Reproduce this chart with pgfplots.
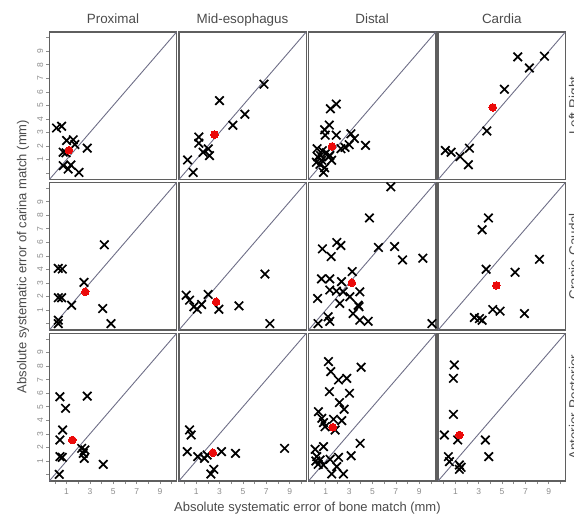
\documentclass[border=0pt]{standalone}
\usepackage{fontspec}
\setmainfont{Liberation Sans}
\usepackage{pgfplots}
\pgfplotsset{compat=1.18}
\definecolor{frame}{RGB}{95,95,95}
\definecolor{idl}{RGB}{110,110,135}
\definecolor{tickc}{RGB}{140,140,140}
\definecolor{txt}{RGB}{75,75,75}
\definecolor{dotred}{RGB}{235,10,10}
\pgfplotsset{
 panel/.style={scale only axis, width=127.3pt, height=147.6pt,
   xmin=-0.48, xmax=10.42, ymin=-0.48, ymax=10.42, anchor=north west,
   xtick=\empty, ytick=\empty,
   axis line style={draw=frame, line width=1.4pt},
   tick align=outside, major tick length=3pt,
   tick style={draw=tickc, line width=0.7pt},
   ticklabel style={font=\fontsize{8.5}{10}\selectfont, text=tickc},
   /pgf/number format/assume math mode=true},
 lefty/.style={ytick={0,...,10}, yticklabels={,1,2,3,4,5,6,7,8,9,}, ytick pos=left,
   yticklabel style={rotate=90, anchor=south, inner sep=3pt}},
 bottomx/.style={xtick={0,...,10}, xticklabels={,1,,3,,5,,7,,9,}, xtick pos=bottom,
   xticklabel style={anchor=north, inner sep=4pt}},
 xm/.style={only marks, mark=x, mark size=6pt, mark options={line width=1.7pt, draw=black}},
 mn/.style={only marks, mark=*, mark size=3.8pt, mark options={fill=dotred, draw=dotred, line width=0pt}},
 idline/.style={idl, line width=0.9pt, no marks},
}
\begin{document}
\begin{tikzpicture}[x=1pt,y=1pt]
% ---------------- Row 1: Left-Right
\begin{axis}[panel, lefty, at={(49.3pt,483pt)}]
\addplot[idline] coordinates {(-0.48,-0.48) (10.42,10.42)};
\addplot[xm] coordinates {(0.14,3.33) (0.57,3.46) (0.71,1.54) (0.95,1.5) (1.0,2.41) (1.57,2.46) (1.71,2.11) (2.77,1.84) (0.71,0.55) (1.14,0.30) (1.37,0.60) (2.06,0.05)};
\addplot[mn] coordinates {(1.2,1.69)};
\end{axis}
\begin{axis}[panel, at={(178.9pt,483pt)}]
\addplot[idline] coordinates {(-0.48,-0.48) (10.42,10.42)};
\addplot[xm] coordinates {(0.26,0.97) (0.74,0.05) (1.23,2.66) (1.23,2.21) (1.6,1.54) (2.03,1.79) (2.14,1.29) (3.0,5.35) (4.14,3.53) (5.17,4.35) (6.8,6.57)};
\addplot[mn] coordinates {(2.57,2.84)};
\end{axis}
\begin{axis}[panel, at={(308.5pt,483pt)}]
\addplot[idline] coordinates {(-0.48,-0.48) (10.42,10.42)};
\addplot[xm] coordinates {(1.4,4.75) (1.9,5.1) (1.3,3.55) (0.9,3.2) (0.95,2.8) (1.9,2.8) (3.15,2.9) (3.45,2.55) (4.4,2.05) (3.0,2.1) (2.65,1.9) (2.3,1.8) (0.25,1.8) (0.7,1.65) (1.05,1.5) (0.55,1.3) (1.25,1.2) (1.5,0.95) (0.2,0.8) (0.5,0.65) (0.9,0.4) (0.8,0.05) (1.35,1.3) (0.3,1.2) (0.65,0.95)};
\addplot[mn] coordinates {(1.54,1.97)};
\end{axis}
\begin{axis}[panel, at={(438.1pt,483pt)}]
\addplot[idline] coordinates {(-0.48,-0.48) (10.42,10.42)};
\addplot[xm] coordinates {(0.14,1.67) (0.63,1.54) (1.4,1.22) (2.2,1.84) (2.11,0.62) (3.69,3.11) (5.2,6.19) (6.34,8.58) (7.34,7.76) (8.63,8.63)};
\addplot[mn] coordinates {(4.2,4.85)};
\end{axis}
% ---------------- Row 2: Cranio-Caudal
\begin{axis}[panel, lefty, at={(49.3pt,332.5pt)}]
\addplot[idline] coordinates {(-0.48,-0.48) (10.42,10.42)};
\addplot[xm] coordinates {(0.29,0.25) (0.29,0.0) (0.29,4.08) (0.63,4.03) (0.29,1.91) (0.57,1.91) (1.43,1.36) (2.49,3.04) (4.23,5.82) (4.09,1.11) (4.8,0.0)};
\addplot[mn] coordinates {(2.6,2.35)};
\end{axis}
\begin{axis}[panel, at={(178.9pt,332.5pt)}]
\addplot[idline] coordinates {(-0.48,-0.48) (10.42,10.42)};
\addplot[xm] coordinates {(0.14,2.1) (0.43,1.73) (0.8,1.24) (1.09,1.06) (1.46,1.41) (2.03,2.15) (2.94,1.06) (4.66,1.31) (6.89,3.66) (7.31,0.0)};
\addplot[mn] coordinates {(2.71,1.61)};
\end{axis}
\begin{axis}[panel, at={(308.5pt,332.5pt)}]
\addplot[idline] coordinates {(-0.48,-0.48) (10.42,10.42)};
\addplot[xm] coordinates {(6.57,10.1) (4.74,7.8) (0.71,5.52) (1.94,5.99) (2.29,5.77) (1.46,4.95) (5.51,5.62) (6.89,5.69) (7.57,4.7) (9.31,4.83) (3.26,3.84) (0.63,3.3) (1.34,3.3) (2.34,3.1) (0.3,1.86) (1.34,2.48) (1.91,2.4) (2.49,2.35) (3.06,1.98) (3.91,2.35) (2.2,1.49) (3.77,1.36) (3.85,1.25) (3.34,0.74) (3.91,0.25) (4.63,0.17) (1.2,0.5) (1.34,0.17) (0.34,0.0) (10.09,0.0)};
\addplot[mn] coordinates {(3.23,3.02)};
\end{axis}
\begin{axis}[panel, at={(438.1pt,332.5pt)}]
\addplot[idline] coordinates {(-0.48,-0.48) (10.42,10.42)};
\addplot[xm] coordinates {(3.83,7.8) (3.29,6.93) (3.63,4.01) (6.11,3.79) (8.2,4.75) (2.63,0.45) (3.06,0.37) (3.29,0.25) (4.2,1.04) (4.83,0.92) (6.91,0.74)};
\addplot[mn] coordinates {(4.51,2.82)};
\end{axis}
% ---------------- Row 3: Anterior-Posterior
\begin{axis}[panel, lefty, bottomx, at={(49.3pt,181.6pt)}]
\addplot[idline] coordinates {(-0.48,-0.48) (10.42,10.42)};
\addplot[xm] coordinates {(0.37,0.01) (0.43,5.74) (2.77,5.79) (0.91,4.89) (0.66,3.29) (0.43,2.55) (0.43,1.32) (0.63,1.27) (2.29,1.93) (2.57,1.81) (2.43,1.56) (2.51,1.19) (4.14,0.75)};
\addplot[mn] coordinates {(1.49,2.55)};
\end{axis}
\begin{axis}[panel, bottomx, at={(178.9pt,181.6pt)}]
\addplot[idline] coordinates {(-0.48,-0.48) (10.42,10.42)};
\addplot[xm] coordinates {(0.23,1.69) (0.43,3.29) (0.57,2.92) (1.14,1.32) (1.71,1.19) (1.94,1.44) (3.17,1.69) (4.37,1.56) (2.51,0.38) (2.26,0.04) (8.57,1.93)};
\addplot[mn] coordinates {(2.43,1.61)};
\end{axis}
\begin{axis}[panel, bottomx, at={(308.5pt,181.6pt)}]
\addplot[idline] coordinates {(-0.48,-0.48) (10.42,10.42)};
\addplot[xm] coordinates {(1.23,8.34) (1.43,7.6) (2.09,6.98) (2.8,7.1) (4.03,7.92) (1.31,6.12) (3.03,6.0) (2.17,5.31) (2.57,4.82) (0.37,4.64) (0.66,4.15) (0.8,3.83) (1.66,4.08) (2.37,3.98) (0.94,3.53) (1.8,3.29) (3.94,2.3) (0.8,2.06) (0.09,1.86) (0.23,1.32) (0.51,1.07) (0.8,0.7) (1.37,1.12) (2.09,1.27) (3.17,1.39) (1.94,0.58) (1.51,0.04) (2.51,0.04) (0.15,1.0) (0.35,0.75)};
\addplot[mn] coordinates {(1.6,3.49)};
\end{axis}
\begin{axis}[panel, bottomx, at={(438.1pt,181.6pt)}]
\addplot[idline] coordinates {(-0.48,-0.48) (10.42,10.42)};
\addplot[xm] coordinates {(0.91,8.09) (0.83,7.1) (0.83,4.44) (0.06,2.92) (1.2,2.55) (3.57,2.55) (3.86,1.32) (0.4,1.32) (0.49,0.95) (1.34,0.7) (1.49,0.53) (1.34,0.38)};
\addplot[mn] coordinates {(1.34,2.92)};
\end{axis}
% ---------------- Titles and labels
\begin{scope}[every node/.style={text=txt, font=\fontsize{13.4}{15}\selectfont}]
\node[anchor=base] at (112.95,491) {Proximal};
\node[anchor=base] at (242.55,491) {Mid-esophagus};
\node[anchor=base] at (372.15,491) {Distal};
\node[anchor=base] at (501.75,491) {Cardia};
\node[anchor=base, rotate=90] at (578.5,409.2) {Left-Right};
\node[anchor=base, rotate=90] at (578.5,258.7) {Cranio-Caudal};
\node[anchor=base, rotate=90] at (578.5,107.8) {Anterior-Posterior};
\end{scope}
\node[text=txt, font=\fontsize{13}{15}\selectfont, anchor=base] at (307.4,4) {Absolute systematic error of bone match (mm)};
\node[text=txt, font=\fontsize{13}{15}\selectfont, anchor=base, rotate=90] at (26.5,258.5) {Absolute systematic error of carina match (mm)};
\pgfresetboundingbox
\useasboundingbox (0,0) rectangle (574,515);
\end{tikzpicture}
\end{document}
